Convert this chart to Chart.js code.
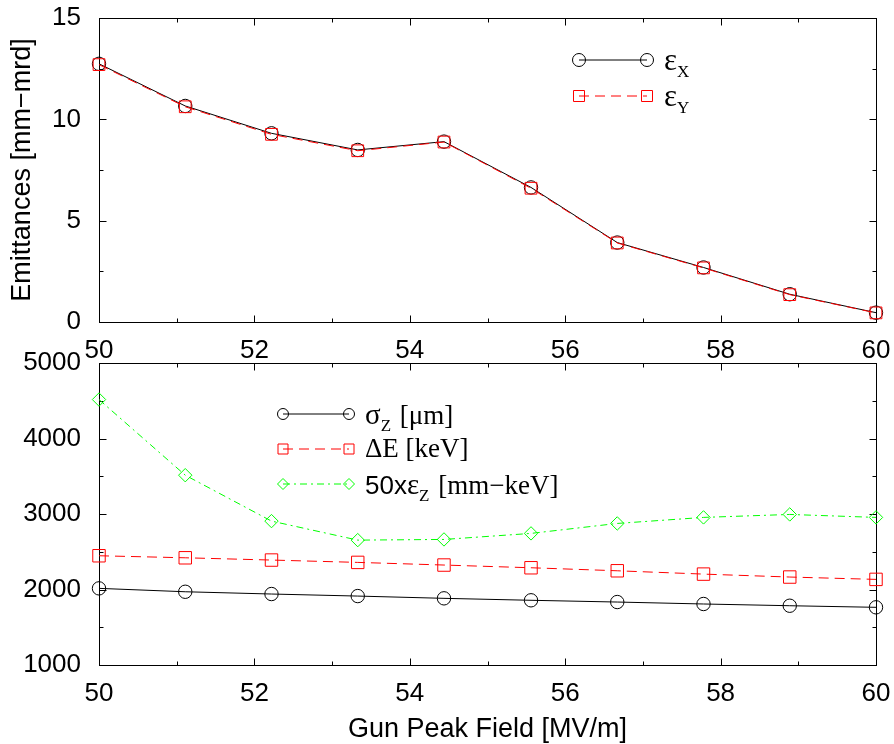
<!DOCTYPE html>
<html><head><meta charset="utf-8">
<script src="https://cdn.jsdelivr.net/npm/chart.js@4"></script>
<style>
html,body{margin:0;padding:0;background:#fff;}
#wrap{position:relative;width:894px;height:744px;background:#fff;}
canvas{position:absolute;left:0;top:0;}
</style></head><body>
<div id="wrap"><canvas id="cTop" width="894" height="744"></canvas><canvas id="cBot" width="894" height="744"></canvas></div>
<script>
// ---- data ----
const gunField = [50, 51.11, 52.22, 53.33, 54.44, 55.56, 56.67, 57.78, 58.89, 60];
const emitX   = [12.74, 10.66, 9.31, 8.49, 8.90, 6.64, 3.92, 2.69, 1.37, 0.46];
const emitY   = [12.70, 10.62, 9.26, 8.45, 8.88, 6.60, 3.90, 2.67, 1.35, 0.45];
const sigmaZ  = [2015, 1970, 1940, 1913, 1883, 1857, 1834, 1808, 1785, 1764];
const deltaE  = [2447, 2420, 2390, 2359, 2324, 2288, 2248, 2204, 2165, 2134];
const emitZ50 = [4516, 3514, 2906, 2654, 2663, 2743, 2875, 2955, 2994, 2955];
const xTicks     = [50, 52, 54, 56, 58, 60];
const topYTicks  = [0, 5, 10, 15];
const botYTicks  = [1000, 2000, 3000, 4000, 5000];
const topYTitle  = 'Emittances [mm\u2212mrd]';
const xTitle     = 'Gun Peak Field [MV/m]';
const topLabels  = ['\u03b5X', '\u03b5Y'];
const botLabels  = ['\u03c3Z [\u03bcm]', '\u0394E [keV]', '50x\u03b5Z [mm\u2212keV]'];
// legend text split into pieces (sub = subscript, sans = sans-serif, big = greek)
const topLegendParts = [
  [{t:'\u03b5', big:true}, {t:'X', sub:true}],
  [{t:'\u03b5', big:true}, {t:'Y', sub:true}]
];
const botLegendParts = [
  [{t:'\u03c3', big:true}, {t:'Z', sub:true}, {t:' [\u03bcm]'}],
  [{t:'\u0394E [keV]'}],
  [{t:'50x', sans:true}, {t:'\u03b5', big:true}, {t:'Z', sub:true}, {t:' [mm\u2212keV]'}]
];

const SANS = "'Liberation Sans', Arial, Helvetica, sans-serif";
const SERIF = "'Liberation Serif', 'Times New Roman', serif";
Chart.defaults.font.family = SANS;
Chart.defaults.color = '#000';

function pts(ys) { return gunField.map((x, i) => ({x: x, y: ys[i]})); }

function drawMarker(ctx, style, r, x, y) {
  ctx.beginPath();
  if (style === 'circle') {
    ctx.arc(x, y, r, 0, Math.PI * 2);
  } else if (style === 'rect') {
    ctx.rect(x - r, y - r, 2 * r, 2 * r);
  } else if (style === 'rectRot') {
    ctx.moveTo(x, y - r); ctx.lineTo(x + r, y); ctx.lineTo(x, y + r); ctx.lineTo(x - r, y); ctx.closePath();
  }
  ctx.stroke();
}

const boxPlugin = {
  id: 'boxTicks',
  beforeDatasetsDraw(chart) {
    const {ctx, chartArea: a, scales: {x, y}} = chart;
    ctx.save();
    ctx.strokeStyle = '#000';
    ctx.lineWidth = 1;
    const L = Math.round(a.left) + 0.5, R = Math.round(a.right) + 0.5;
    const T = Math.round(a.top) + 0.5, B = Math.round(a.bottom) + 0.5;
    ctx.strokeRect(L, T, R - L, B - T);
    const major = 7, minor = 4;
    const xt = x.ticks.map(t => t.value), yt = y.ticks.map(t => t.value);
    const mids = arr => arr.slice(1).map((v, i) => (v + arr[i]) / 2);
    ctx.beginPath();
    const vx = (v, len) => { const p = Math.round(x.getPixelForValue(v)) + 0.5; ctx.moveTo(p, B); ctx.lineTo(p, B - len); ctx.moveTo(p, T); ctx.lineTo(p, T + len); };
    const vy = (v, len) => { const p = Math.round(y.getPixelForValue(v)) + 0.5; ctx.moveTo(L, p); ctx.lineTo(L + len, p); ctx.moveTo(R, p); ctx.lineTo(R - len, p); };
    xt.forEach(v => vx(v, major)); mids(xt).forEach(v => vx(v, minor));
    yt.forEach(v => vy(v, major)); mids(yt).forEach(v => vy(v, minor));
    ctx.stroke();
    ctx.restore();
  }
};

const legendPlugin = {
  id: 'sampleLegend',
  afterDatasetsDraw(chart, args, o) {
    const ctx = chart.ctx;
    chart.data.datasets.forEach((ds, i) => {
      const y = o.y + i * o.dy;
      ctx.save();
      ctx.strokeStyle = ds.borderColor;
      ctx.lineWidth = 1;
      ctx.setLineDash(ds.borderDash || []);
      ctx.beginPath(); ctx.moveTo(o.x1, y); ctx.lineTo(o.x2, y); ctx.stroke();
      ctx.setLineDash([]);
      const r = o.markerR[i];
      drawMarker(ctx, ds.pointStyle, r, o.x1, y);
      drawMarker(ctx, ds.pointStyle, r, o.x2, y);
      let tx = o.tx;
      const base = y + o.baseOff[i];
      ctx.fillStyle = '#000';
      ctx.textBaseline = 'alphabetic';
      ctx.textAlign = 'left';
      o.parts[i].forEach(p => {
        let size = o.size, fam = SERIF, by = base;
        if (p.sub) { size = o.subSize; by = base + o.subOff; }
        else if (p.big) { size = o.bigSize; }
        else if (p.sans) { size = o.sansSize; fam = SANS; }
        ctx.font = size + 'px ' + fam;
        ctx.fillText(p.t, tx, by);
        tx += ctx.measureText(p.t).width + (p.sub ? 2 : 0);
      });
      ctx.restore();
    });
  }
};

function fixedTicks(list) { return s => { s.ticks = list.map(v => ({value: v})); }; }
const plain = v => String(v);
const tickFont = {family: SANS, size: 26};
// invisible tick marks used only as spacing between axis and labels
const hiddenGrid = len => ({display: true, drawOnChartArea: false, drawTicks: true, tickLength: len, color: 'rgba(0,0,0,0)'});

// ---- top chart ----
new Chart(document.getElementById('cTop'), {
  type: 'line',
  data: {
    datasets: [
      {label: topLabels[0], data: pts(emitX), borderColor: '#000000', borderWidth: 1, pointStyle: 'circle',
       pointRadius: 6.7, pointBorderWidth: 1, pointBackgroundColor: 'rgba(0,0,0,0)', pointBorderColor: '#000000',
       fill: false, tension: 0, clip: false, order: 1},
      {label: topLabels[1], data: pts(emitY), borderColor: '#ff0000', borderWidth: 1, borderDash: [10, 6], pointStyle: 'rect',
       pointRadius: 8.3, pointBorderWidth: 1, pointBackgroundColor: 'rgba(0,0,0,0)', pointBorderColor: '#ff0000',
       fill: false, tension: 0, clip: false, order: 0}
    ]
  },
  options: {
    responsive: false, animation: false, devicePixelRatio: 1,
    layout: {autoPadding: false, padding: {left: 0, right: 18, top: 18, bottom: 382}},
    plugins: {
      legend: {display: false}, tooltip: {enabled: false},
      sampleLegend: {x1: 579, x2: 647, y: 60, dy: 36, tx: 664, markerR: [6.5, 5.5], baseOff: [10, 10],
        size: 27, bigSize: 31, subSize: 17, sansSize: 26, subOff: 7, parts: topLegendParts}
    },
    scales: {
      x: {type: 'linear', min: 50, max: 60, afterBuildTicks: fixedTicks(xTicks),
          grid: hiddenGrid(13), border: {display: false},
          ticks: {font: tickFont, color: '#000', padding: 0, maxRotation: 0, callback: plain},
          afterFit: s => { s.height = 40; }},
      y: {type: 'linear', min: 0, max: 15, afterBuildTicks: fixedTicks(topYTicks),
          grid: hiddenGrid(18), border: {display: false},
          ticks: {font: tickFont, color: '#000', padding: 0, callback: plain},
          title: {display: true, text: topYTitle, color: '#000', font: {family: SANS, size: 27}, padding: {top: 6, bottom: 0}},
          afterFit: s => { s.width = 99; }}
    }
  },
  plugins: [boxPlugin, legendPlugin]
});

// ---- bottom chart ----
new Chart(document.getElementById('cBot'), {
  type: 'line',
  data: {
    datasets: [
      {label: botLabels[0], data: pts(sigmaZ), borderColor: '#000000', borderWidth: 1, pointStyle: 'circle',
       pointRadius: 6.7, pointBorderWidth: 1, pointBackgroundColor: 'rgba(0,0,0,0)', pointBorderColor: '#000000',
       fill: false, tension: 0, clip: false},
      {label: botLabels[1], data: pts(deltaE), borderColor: '#ff0000', borderWidth: 1, borderDash: [10, 6], pointStyle: 'rect',
       pointRadius: 8.8, pointBorderWidth: 1, pointBackgroundColor: 'rgba(0,0,0,0)', pointBorderColor: '#ff0000',
       fill: false, tension: 0, clip: false},
      {label: botLabels[2], data: pts(emitZ50), borderColor: '#00ff00', borderWidth: 1, borderDash: [7, 4, 2, 4], pointStyle: 'rectRot',
       pointRadius: 6.7, pointBorderWidth: 1, pointBackgroundColor: 'rgba(0,0,0,0)', pointBorderColor: '#00ff00',
       fill: false, tension: 0, clip: false}
    ]
  },
  options: {
    responsive: false, animation: false, devicePixelRatio: 1,
    layout: {autoPadding: false, padding: {left: 0, right: 18, top: 363, bottom: 0}},
    plugins: {
      legend: {display: false}, tooltip: {enabled: false},
      sampleLegend: {x1: 283, x2: 349, y: 414, dy: 35, tx: 365, markerR: [5.5, 5, 5.5], baseOff: [10, 8, 10],
        size: 27, bigSize: 29, subSize: 17, sansSize: 26, subOff: 7, parts: botLegendParts}
    },
    scales: {
      x: {type: 'linear', min: 50, max: 60, afterBuildTicks: fixedTicks(xTicks),
          grid: hiddenGrid(13), border: {display: false},
          ticks: {font: tickFont, color: '#000', padding: 0, maxRotation: 0, callback: plain},
          title: {display: true, text: xTitle, color: '#000', font: {family: SANS, size: 27, lineHeight: 1.0}, padding: {top: 0, bottom: 1}},
          afterFit: s => { s.height = 79; }},
      y: {type: 'linear', min: 1000, max: 5000, afterBuildTicks: fixedTicks(botYTicks),
          grid: hiddenGrid(18), border: {display: false},
          ticks: {font: tickFont, color: '#000', padding: 0, callback: plain},
          afterFit: s => { s.width = 99; }}
    }
  },
  plugins: [boxPlugin, legendPlugin]
});
</script>
</body></html>
